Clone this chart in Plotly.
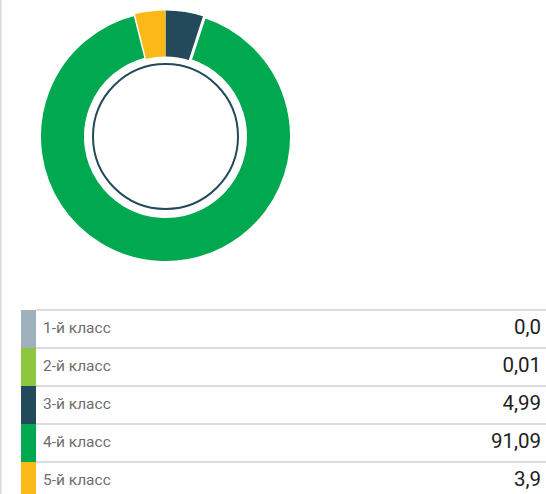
import plotly.graph_objects as go

classes = ["1-й класс", "2-й класс", "3-й класс", "4-й класс", "5-й класс"]
values = [0.0, 0.01, 4.99, 91.09, 3.9]
value_labels = ["0,0", "0,01", "4,99", "91,09", "3,9"]
colors = ["#9fb1bc", "#8dc63f", "#234a5a", "#00a84f", "#fbb917"]

W, H = 546, 494
FONT = "Roboto"

fig = go.Figure()

# donut
cx, cy, R = 165.5, 136.5, 126.0
fig.add_trace(go.Pie(
    labels=classes, values=values, sort=False, direction="clockwise", rotation=0,
    hole=0.635,
    marker=dict(colors=colors, line=dict(color="white", width=[0, 0, 0, 3, 0])),
    textinfo="none", hoverinfo="skip", showlegend=False,
    domain=dict(x=[(cx - R) / W, (cx + R) / W], y=[(H - cy - R) / H, (H - cy + R) / H]),
))

# table on an overlay axis: row i centred at pixel 329 + 38*i
row_h = 38.0
first_c = 329.0
y_top = -first_c / row_h
y_bot = (H - first_c) / row_h
idx = list(range(len(classes)))

fig.add_trace(go.Bar(
    orientation="h", y=idx, x=[15] * len(idx), base=[21] * len(idx), width=[1.0] * len(idx),
    marker=dict(color=colors, line=dict(width=0)), xaxis="x", yaxis="y",
    hoverinfo="skip", showlegend=False,
))
fig.add_trace(go.Scatter(
    x=[43] * len(idx), y=idx, mode="text", text=classes, textposition="middle right",
    textfont=dict(family=FONT, size=15.5, color="#6e6e6e"), hoverinfo="skip", showlegend=False,
))
fig.add_trace(go.Scatter(
    x=[541] * len(idx), y=idx, mode="text", text=value_labels, textposition="middle left",
    textfont=dict(family=FONT, size=20.5, color="#1e1e1e"), hoverinfo="skip", showlegend=False,
))

shapes = []
for i in idx:
    shapes.append(dict(type="line", xref="x", yref="y", x0=36, x1=W, y0=i - 0.5, y1=i - 0.5,
                       line=dict(color="#d0d0d0", width=1.5)))
# inner ring of the donut
r_in = 72.5
shapes.append(dict(type="circle", xref="paper", yref="paper",
                   x0=(cx - r_in) / W, x1=(cx + r_in) / W,
                   y0=(H - cy - r_in) / H, y1=(H - cy + r_in) / H,
                   line=dict(color="#234a5a", width=2)))
# left border
shapes.append(dict(type="line", xref="paper", yref="paper", x0=0.001, x1=0.001, y0=0, y1=1,
                   line=dict(color="#d5dde1", width=2)))

fig.update_layout(
    width=W, height=H, margin=dict(l=0, r=0, t=0, b=0),
    paper_bgcolor="white", plot_bgcolor="rgba(0,0,0,0)",
    xaxis=dict(range=[0, W], domain=[0, 1], visible=False, fixedrange=True),
    yaxis=dict(range=[y_bot, y_top], domain=[0, 1], visible=False, fixedrange=True),
    shapes=shapes, showlegend=False, bargap=0,
)

fig.write_html(
    "out.html",
    config={"displayModeBar": False},
    post_script="document.body.style.margin='0';document.body.style.padding='0';",
)
